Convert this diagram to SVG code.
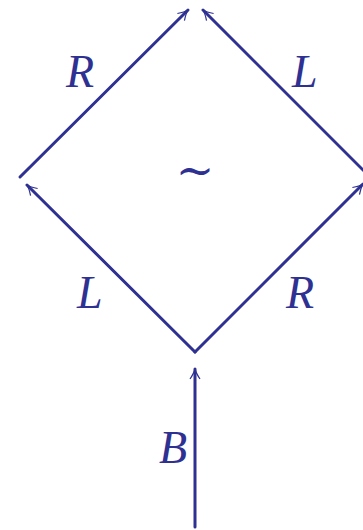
<svg xmlns="http://www.w3.org/2000/svg" width="363" height="530" viewBox="0 0 363 530">
<style>
.e{stroke:#2e3192;stroke-width:3;fill:none;stroke-linecap:round}
.t{font-family:"Liberation Serif",serif;font-style:italic;font-size:46px;fill:#2e3192}
</style>
<defs>
<marker id="ah" markerUnits="userSpaceOnUse" viewBox="-12 -7 14 14" markerWidth="14" markerHeight="14" refX="0" refY="0" orient="auto">
<path d="M-10,-5 Q-4,-1 0,0 Q-4,1 -10,5" fill="none" stroke="#2e3192" stroke-width="1.2"/>
</marker>
</defs>
<rect width="363" height="530" fill="#fff"/>
<g id="connectors">
<line class="e" x1="20" y1="177" x2="188" y2="10" marker-end="url(#ah)"/>
<line class="e" x1="368" y1="175" x2="203" y2="10" marker-end="url(#ah)"/>
<line class="e" x1="195" y1="352" x2="27" y2="185" marker-end="url(#ah)"/>
<line class="e" x1="195" y1="352" x2="363" y2="184" marker-end="url(#ah)"/>
<line class="e" x1="195" y1="527" x2="195" y2="369" marker-end="url(#ah)"/>
</g>
<g id="labels">
<text class="t" x="66" y="87">R</text>
<text class="t" x="292" y="87">L</text>
<text class="t" x="77" y="308">L</text>
<text class="t" x="286" y="308">R</text>
<text class="t" x="159" y="463">B</text>
<text x="195" y="186" text-anchor="middle" style="font-family:'Liberation Serif','DejaVu Serif',serif;font-size:46px;fill:#2e3192">∼</text>
</g>
</svg>
